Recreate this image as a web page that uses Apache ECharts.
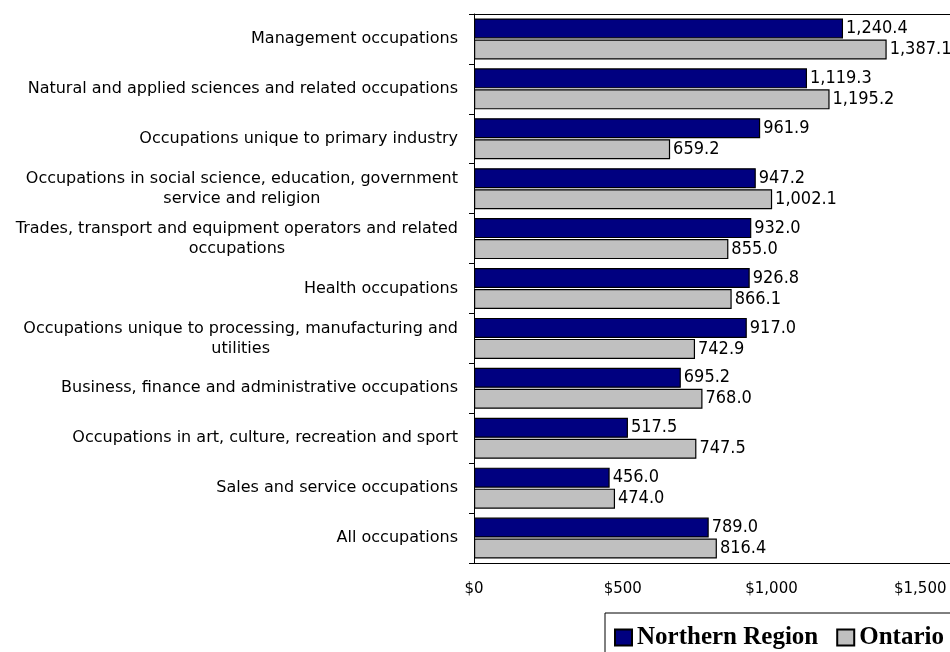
<!DOCTYPE html>
<html>
<head>
<meta charset="utf-8">
<script src="https://cdn.jsdelivr.net/npm/echarts@6/dist/echarts.min.js"></script>
<style>
  html, body { margin: 0; padding: 0; background: #fff; }
  #chart { width: 950px; height: 652px; }
</style>
</head>
<body>
<div id="chart"></div>
<script>
// Occupational groups, listed top to bottom
const categories = [
  'Management occupations',
  'Natural and applied sciences and related occupations',
  'Occupations unique to primary industry',
  'Occupations in social science, education, government\nservice and religion',
  'Trades, transport and equipment operators and related\noccupations',
  'Health occupations',
  'Occupations unique to processing, manufacturing and\nutilities',
  'Business, finance and administrative occupations',
  'Occupations in art, culture, recreation and sport',
  'Sales and service occupations',
  'All occupations'
];

// Weekly earnings ($) by group
const northernRegion = [1240.4, 1119.3, 961.9, 947.2, 932.0, 926.8, 917.0, 695.2, 517.5, 456.0, 789.0];
const ontario        = [1387.1, 1195.2, 659.2, 1002.1, 855.0, 866.1, 742.9, 768.0, 747.5, 474.0, 816.4];

const seriesNames = ['Northern Region', 'Ontario'];

// Value axis: labelled $0 .. $1,500 in $500 steps; the plot runs on to the right edge
const axisMin = 0;
const axisMax = 1600;
const axisStep = 500;

const fmtValue = v => v.toLocaleString('en-US', { minimumFractionDigits: 1, maximumFractionDigits: 1 });
const fmtDollar = v => '$' + v.toLocaleString('en-US');

const labelFont = '"DejaVu Sans", sans-serif';
const valueFont = '"Liberation Sans Narrow", "DejaVu Sans Condensed", "Arial Narrow", "Liberation Sans", sans-serif';

const chart = echarts.init(document.getElementById('chart'), null, { renderer: 'canvas' });

const barLabel = {
  show: true,
  position: 'right',
  distance: 3,
  color: '#000',
  fontFamily: valueFont,
  fontSize: 18,
  formatter: p => fmtValue(p.value)
};

chart.setOption({
  animation: false,
  backgroundColor: '#fff',
  grid: {
    left: 474,
    top: 14,
    width: 476,
    height: 549,
    show: false,
    containLabel: false
  },
  legend: {
    data: seriesNames,
    left: 605,
    top: 613,
    width: 420,
    orient: 'horizontal',
    icon: 'rect',
    itemWidth: 17,
    itemHeight: 16,
    itemGap: 18,
    padding: [12, 40, 20, 9],
    borderColor: '#000',
    borderWidth: 1,
    backgroundColor: '#fff',
    textStyle: {
      fontFamily: '"Liberation Serif", "Times New Roman", serif',
      fontWeight: 'bold',
      fontSize: 25,
      color: '#000'
    }
  },
  xAxis: [
    {
      type: 'value',
      position: 'bottom',
      min: axisMin,
      max: axisMax,
      interval: axisStep,
      axisLine: { show: true, lineStyle: { color: '#000', width: 1 } },
      axisTick: { show: false },
      splitLine: { show: false },
      axisLabel: {
        showMaxLabel: false,
        margin: 19,
        color: '#000',
        fontFamily: labelFont,
        fontSize: 15,
        formatter: v => fmtDollar(v)
      }
    },
    {
      // top edge of the plot frame
      type: 'value',
      position: 'top',
      min: axisMin,
      max: axisMax,
      interval: axisStep,
      axisLine: { show: true, lineStyle: { color: '#000', width: 1 } },
      axisTick: { show: false },
      axisLabel: { show: false },
      splitLine: { show: false }
    }
  ],
  yAxis: {
    type: 'category',
    data: categories,
    inverse: true,
    axisLine: { show: true, lineStyle: { color: '#000', width: 1 } },
    axisTick: { show: true, length: 5, lineStyle: { color: '#000' } },
    splitLine: { show: false },
    axisLabel: {
      margin: 16,
      color: '#000',
      fontFamily: labelFont,
      fontSize: 16,
      lineHeight: 20,
      formatter: v => v.split('\n').map(l => '{c|' + l + '}').join('\n'),
      rich: {
        c: {
          align: 'center',
          color: '#000',
          fontFamily: labelFont,
          fontSize: 16,
          lineHeight: 20
        }
      }
    }
  },
  series: [
    {
      name: seriesNames[0],
      type: 'bar',
      xAxisIndex: 0,
      data: northernRegion,
      barWidth: 20,
      barGap: '5%',
      itemStyle: { color: '#000080', borderColor: '#000', borderWidth: 1.2 },
      label: barLabel
    },
    {
      name: seriesNames[1],
      type: 'bar',
      xAxisIndex: 0,
      data: ontario,
      barWidth: 20,
      barGap: '5%',
      itemStyle: { color: '#C0C0C0', borderColor: '#000', borderWidth: 1.2 },
      label: barLabel
    }
  ]
});
</script>
</body>
</html>
